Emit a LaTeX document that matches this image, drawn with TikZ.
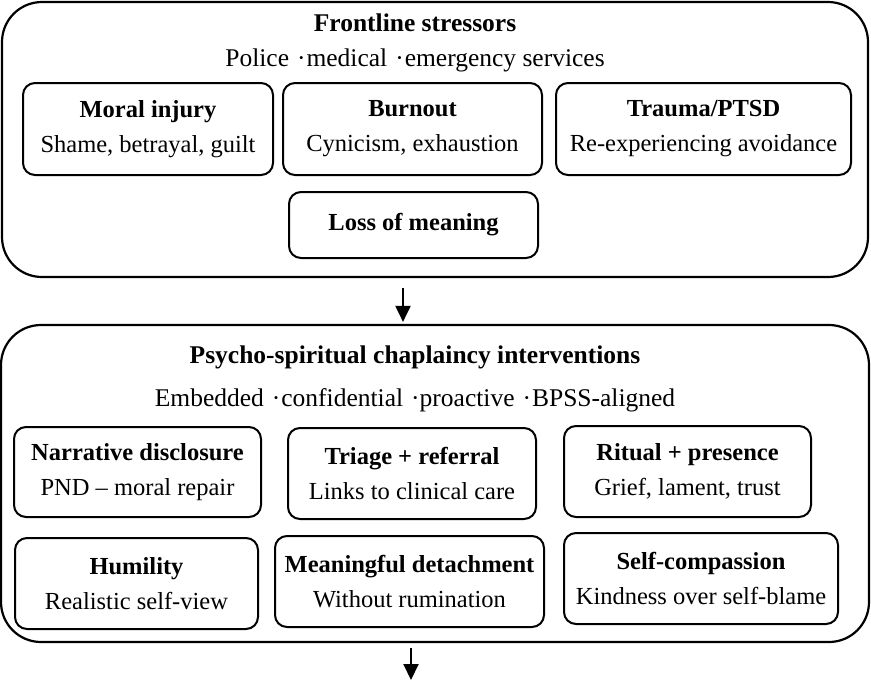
\documentclass[tikz,border=0pt]{standalone}
\usepackage{fontspec}
\setmainfont{Liberation Serif}
\usetikzlibrary{arrows.meta}
\begin{document}
\begin{tikzpicture}[x=1pt,y=-1pt,
  outerbox/.style={draw, line width=2.2pt, rounded corners=40pt, inner sep=0pt},
  inbox/.style={draw, line width=2pt, rounded corners=12pt, align=center, inner sep=0pt, font=\fontsize{24.5}{35}\selectfont},
  head/.style={font=\bfseries\fontsize{25.5}{28}\selectfont, inner sep=0pt},
  sub/.style={font=\fontsize{25.5}{28}\selectfont, inner sep=0pt},
  arr/.style={line width=2pt, -{Triangle[length=16pt,width=15pt]}}]
\useasboundingbox (0,0) rectangle (871,681);
% outer containers
\node[outerbox, minimum width=866pt, minimum height=275pt] (stress) at (435,139.5) {};
\node[outerbox, minimum width=868pt, minimum height=317pt] (interv) at (435,483.5) {};
% top container
\node[head] (t1) at (415,23) {Frontline stressors};
\node[sub] (s1) at (415,60) {Police\hspace{8pt}·\hspace{1pt}medical\hspace{8pt}·\hspace{1pt}emergency services};
\node[inbox, minimum width=250pt, minimum height=92pt] (moral) at (148,129) {\textbf{Moral injury}\\Shame, betrayal, guilt};
\node[inbox, minimum width=259pt, minimum height=92pt] (burn) at (412.5,129) {\textbf{Burnout}\\Cynicism, exhaustion};
\node[inbox, minimum width=295pt, minimum height=92pt] (trauma) at (703.5,129) {\textbf{Trauma/PTSD}\\Re-experiencing avoidance};
\node[inbox, minimum width=249pt, minimum height=66pt] (loss) at (413.5,225) {\textbf{Loss of meaning}};
% bottom container
\node[head] (t2) at (415,357) {Psycho-spiritual chaplaincy interventions};
\node[sub] (s2) at (415,400) {Embedded\hspace{8pt}·\hspace{1pt}confidential\hspace{8pt}·proactive\hspace{8pt}·\hspace{1pt}BPSS-aligned};
\node[inbox, minimum width=247pt, minimum height=90pt] (narr) at (137.5,472) {\textbf{Narrative disclosure}\\PND -- moral repair};
\node[inbox, minimum width=248pt, minimum height=91pt] (triage) at (412,473.5) {\textbf{Triage + referral}\\Links to clinical care};
\node[inbox, minimum width=247pt, minimum height=91pt] (ritual) at (687.5,471.5) {\textbf{Ritual + presence}\\Grief, lament, trust};
\node[inbox, minimum width=243pt, minimum height=91pt] (humil) at (136.5,583.5) {\textbf{Humility}\\Realistic self-view};
\node[inbox, minimum width=269pt, minimum height=91pt] (detach) at (409.5,581.5) {\textbf{Meaningful detachment}\\Without rumination};
\node[inbox, minimum width=274pt, minimum height=91pt] (selfc) at (701,578.5) {\textbf{Self-compassion}\\Kindness over self-blame};
% connectors
\coordinate (out) at (411,680);
\draw[arr, shorten <=10pt, shorten >=2pt] ([xshift=-32pt]stress.south) -- ([xshift=-32pt]interv.north);
\draw[arr, shorten <=5pt] ([xshift=-24pt]interv.south) -- (out);
\end{tikzpicture}
\end{document}
